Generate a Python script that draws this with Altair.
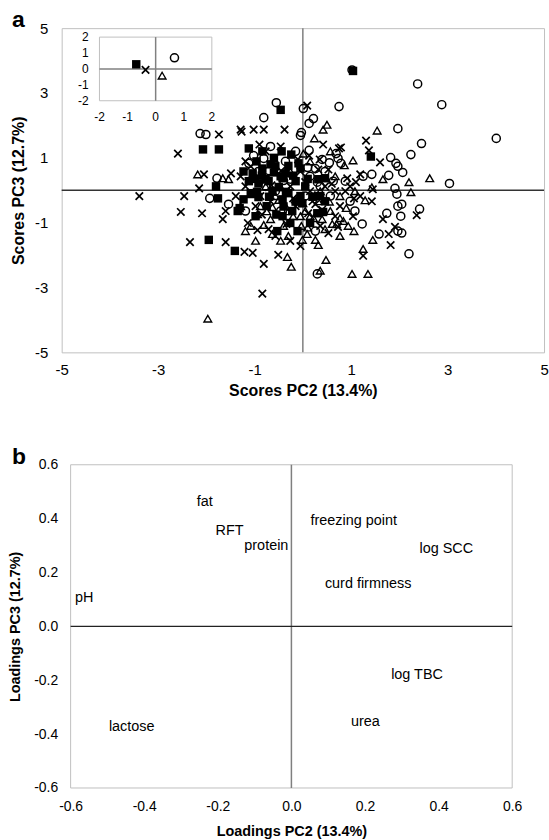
import altair as alt
import pandas as pd

FONT = "Liberation Sans"

# ---- Panel a: PCA scores (PC2, PC3), one list per group ----
SQUARES = [(1.04, 3.68), (-0.46, 2.48), (-2.07, 1.26), (-1.74, 1.26), (-1.80, 0.12), (-1.76, -0.25),
           (-1.35, -0.64), (-1.31, -0.55), (-1.23, -0.28), (-0.92, -0.21), (-1.95, -1.53), (-1.41, -1.87),
           (1.41, 1.04), (-0.44, 1.20), (-0.24, 1.10), (-0.09, 0.83), (-0.05, 0.67), (-0.46, 0.43),
           (0.32, 0.34), (0.46, 0.37), (-0.01, -0.40), (0.36, -0.18), (0.30, -0.71), (-0.42, -0.80),
           (-0.11, -1.26), (-0.53, -1.26), (0.42, -0.67), (-1.12, 1.29), (-1.23, 0.58), (-1.12, 0.28),
           (-0.71, 0.28), (-0.42, 0.37), (-0.96, 0.89), (-0.84, 0.67), (-0.63, -0.03), (-0.30, -0.09),
           (-0.75, -0.49), (-0.26, -1.01), (-0.92, 0.21), (-1.04, 0.52), (0.05, 0.12), (-0.67, 0.80),
           (0.46, -0.34), (-0.84, 1.20), (-0.57, 0.74), (-0.36, 0.52), (-0.15, 0.28), (-0.77, 0.34),
           (-1.08, -0.09), (-0.42, -0.28), (-0.22, -0.64), (0.15, -1.01), (-0.05, -0.18), (-0.98, -0.80),
           (-0.85, 0.45), (-0.60, 0.55), (-0.50, 0.10), (-0.35, -0.05), (-0.20, 0.45), (-0.70, -0.20),
           (-0.95, -0.05), (-0.15, -0.35), (-0.40, -0.50), (-0.55, -0.75), (0.10, 0.35), (-0.30, 0.75),
           (-1.00, 0.35), (-0.60, 1.00), (0.20, -0.20)]

CROSSES = [(0.09, 2.61), (-1.74, 1.72), (-1.29, 1.87), (-1.02, 1.87), (-0.81, 1.87), (-2.59, 1.13),
           (-2.05, 0.49), (-2.15, 0.06), (-3.39, -0.18), (-2.46, -0.18), (-2.53, -0.67), (-2.09, -0.71),
           (-1.66, -0.89), (-1.60, -0.64), (-1.14, -1.01), (-0.94, -1.23), (-2.34, -1.60), (-1.60, -1.60),
           (-1.21, -1.90), (-1.04, -1.93), (-0.81, -2.27), (-0.84, -3.19), (-0.38, 1.87), (-1.27, 1.81),
           (-0.90, 1.41), (0.42, 1.41), (1.31, 1.53), (0.75, 1.29), (1.37, 1.23), (1.60, 0.86),
           (1.19, 0.49), (1.45, 0.03), (-0.59, 0.98), (0.13, 1.07), (0.53, 0.64), (1.06, -0.25),
           (1.19, -0.18), (1.43, -0.34), (1.04, -0.80), (1.66, -0.89), (2.36, -0.77), (1.91, -1.13),
           (1.78, -1.35), (1.82, -1.69), (1.25, -2.02), (0.73, -1.13), (0.53, -1.32), (-0.51, -1.99),
           (-0.34, -1.04), (0.11, -0.71), (0.79, 1.32), (0.92, 0.37), (-0.77, 1.20), (-0.67, -0.34),
           (-0.26, 0.12), (-0.98, -0.49), (-0.15, -0.49), (0.15, -0.03), (-1.39, -0.18), (-1.19, 0.12),
           (0.67, -0.03), (0.36, -1.10), (-0.05, -1.72), (-0.57, -1.41), (-1.19, 0.89), (-1.49, 0.52),
           (0.26, -0.43), (0.77, -0.49), (0.98, 0.12), (-1.08, 0.74), (-0.46, 1.35), (-0.05, 0.58),
           (0.46, 0.12), (0.20, -0.34), (-0.71, -1.20), (-0.26, -1.56), (0.67, -0.80), (0.88, -0.03),
           (-0.88, -0.18), (-1.29, 0.43), (0.32, 0.64), (-0.45, 0.60), (-0.65, 0.15), (0.05, 0.25),
           (-0.20, -0.25), (0.40, -0.60), (-0.85, -0.75), (0.60, 0.20), (-0.10, 0.95), (1.10, 0.25),
           (0.35, 0.95)]

CIRCLES = [(1.02, 3.71), (2.38, 3.28), (2.88, 2.64), (4.01, 1.60), (-0.55, 2.70), (0.01, 2.52),
           (0.75, 2.58), (0.22, 2.21), (0.13, 2.06), (-0.03, 1.78), (-0.05, 1.69), (1.97, 1.90),
           (2.46, 1.44), (0.13, 1.23), (2.24, 1.10), (1.82, 1.01), (1.93, 0.83), (1.97, 0.74),
           (0.69, 1.13), (0.73, 0.98), (0.79, 0.83), (2.07, 0.55), (1.25, 0.43), (1.43, 0.49),
           (1.78, 0.46), (3.04, 0.21), (1.95, -0.12), (1.91, 0.06), (-0.81, 2.24), (-2.13, 1.75),
           (-2.01, 1.72), (-1.78, 0.37), (-1.93, -0.25), (-1.54, -0.43), (0.26, 0.67), (-1.02, 1.07),
           (-0.81, 0.98), (1.97, -0.49), (2.05, -0.43), (2.42, -0.58), (1.74, -0.71), (2.03, -0.80),
           (2.05, -1.32), (1.97, -1.26), (1.58, -1.35), (1.23, -1.04), (2.20, -1.96), (0.30, -2.58),
           (-0.67, 1.35), (-0.36, 0.89), (-0.92, 0.58), (0.36, 0.12), (0.57, -0.18), (0.15, 0.43),
           (-1.19, -0.64), (0.63, 0.28), (0.98, -0.34), (-0.26, 0.34), (0.40, 0.95), (-0.57, -0.03),
           (-1.12, 0.83), (-0.15, 1.20), (0.46, 0.58), (0.88, 0.28), (0.05, -0.18), (-0.77, 0.12),
           (-0.46, -0.64), (1.08, -0.64), (0.26, -1.26), (-0.40, 0.30), (0.10, 0.70), (0.55, 0.85),
           (-0.70, 0.60), (0.30, 0.25)]

TRIANGLES = [(-1.97, -3.96), (-2.18, 0.49), (-1.66, 0.37), (-1.54, 0.34), (0.42, 1.87), (0.50, 2.02),
             (1.54, 1.84), (0.24, 1.60), (1.04, 0.92), (0.86, 0.77), (1.66, 0.34), (2.20, 0.25),
             (2.63, 0.37), (2.24, -0.06), (1.43, 0.09), (0.01, 1.13), (-0.46, 0.09), (0.90, -0.55),
             (0.84, -0.95), (0.94, -1.10), (1.06, -1.26), (0.77, -0.86), (1.29, -0.31), (1.45, -1.53),
             (1.25, -1.81), (1.02, -2.58), (1.35, -2.58), (0.36, -2.48), (0.48, -2.15), (-0.32, -2.06),
             (-0.24, -2.36), (-0.01, -1.53), (0.09, -1.35), (0.26, -1.53), (0.32, -1.69), (0.61, -1.04),
             (-0.30, -1.41), (0.15, -0.80), (0.40, -0.89), (-0.81, -1.07), (-0.63, -1.35), (-0.03, -1.10),
             (-0.63, -0.52), (-0.36, -0.49), (-0.20, -0.80), (0.22, -0.86), (-0.94, -0.74), (-1.08, -0.12),
             (-0.77, 0.12), (-0.15, -0.28), (0.32, -0.34), (0.57, -0.64), (-0.67, -0.89), (-1.08, -1.10),
             (0.67, 0.43), (0.36, -0.03), (-1.29, -0.49), (0.05, -0.64), (0.77, -0.18), (-0.46, -1.56),
             (-0.98, -1.56), (-0.88, -0.49), (-0.57, -0.18), (-0.05, -0.80), (0.46, -1.20), (0.77, -1.41),
             (-0.26, 0.58), (0.15, 0.89), (0.57, 1.20), (1.08, -0.03), (-1.19, -1.26), (-0.40, -1.10),
             (-0.50, -0.30), (0.00, -0.40), (0.25, -0.15), (-0.75, -0.65), (0.55, -0.35), (0.10, -1.15),
             (-0.30, -0.65), (0.70, -1.05)]

SCORE_DOMAIN = [-5, 5]
SCORE_TICKS = [-5, -3, -1, 1, 3, 5]

# ---- inset: group means ----
INSET_DOMAIN = [-2, 2]
INSET_TICKS = [-2, -1, 0, 1, 2]
INSET_SQUARE = [(-0.69, 0.29)]
INSET_CROSS = [(-0.36, -0.06)]
INSET_CIRCLE = [(0.67, 0.70)]
INSET_TRIANGLE = [(0.23, -0.42)]

# ---- Panel b: loadings ----
LOAD_DOMAIN = [-0.6, 0.6]
LOAD_TICKS = [-0.6, -0.4, -0.2, 0.0, 0.2, 0.4, 0.6]
VARIABLES = ["fat", "RFT", "protein", "freezing point", "log SCC", "curd firmness",
             "pH", "log TBC", "urea", "lactose"]
LOAD_PC2 = [-0.257, -0.206, -0.128, 0.052, 0.348, 0.091, -0.588, 0.271, 0.162, -0.496]
LOAD_PC3 = [0.46, 0.354, 0.298, 0.392, 0.287, 0.158, 0.107, -0.179, -0.355, -0.372]

CROSS_PATH = "M-1,-1L1,1M-1,1L1,-1"


def pts(pairs, xn, yn):
    return pd.DataFrame(pairs, columns=[xn, yn])


def symbol_layers(sq, cr, ci, tr, x, y, xn, yn):
    return [
        alt.Chart(pts(cr, xn, yn)).mark_point(shape=CROSS_PATH, filled=False, size=56, strokeWidth=1.7,
                                              color="black", opacity=1).encode(x=x, y=y),
        alt.Chart(pts(tr, xn, yn)).mark_point(shape="triangle-up", filled=False, size=60, strokeWidth=1.4,
                                              color="black", opacity=1).encode(x=x, y=y),
        alt.Chart(pts(ci, xn, yn)).mark_point(shape="circle", filled=False, size=66, strokeWidth=1.5,
                                              color="black", opacity=1).encode(x=x, y=y),
        alt.Chart(pts(sq, xn, yn)).mark_point(shape="square", filled=True, size=72, strokeWidth=0,
                                              color="black", opacity=1).encode(x=x, y=y),
    ]


# ================= Panel a =================
xa = alt.X("pc2:Q", title="Scores PC2 (13.4%)",
           scale=alt.Scale(domain=SCORE_DOMAIN, nice=False, zero=False),
           axis=alt.Axis(values=SCORE_TICKS, domain=False, ticks=False, grid=False,
                         labelFontSize=15, labelPadding=10, labelFlush=False,
                         titleFontSize=16, titlePadding=5))
ya = alt.Y("pc3:Q", title="Scores PC3 (12.7%)",
           scale=alt.Scale(domain=SCORE_DOMAIN, nice=False, zero=False),
           axis=alt.Axis(values=SCORE_TICKS, domain=False, ticks=False, grid=False,
                         labelFontSize=15, labelPadding=14, labelFlush=False,
                         titleFontSize=16, titlePadding=8.5))

zero_va = alt.Chart(pd.DataFrame({"pc2": [0]})).mark_rule(color="#7f7f7f", strokeWidth=1.5).encode(x=xa)
zero_ha = alt.Chart(pd.DataFrame({"pc3": [0]})).mark_rule(color="#333333", strokeWidth=1.3).encode(y=ya)
letter_a = alt.Chart(pd.DataFrame({"t": ["a"]})).mark_text(
    align="left", baseline="alphabetic", font=FONT, fontSize=23, fontWeight="bold", color="black"
).encode(x=alt.value(-50), y=alt.value(-1), text="t:N")

main_a = alt.layer(zero_va, zero_ha,
                   *symbol_layers(SQUARES, CROSSES, CIRCLES, TRIANGLES, xa, ya, "pc2", "pc3"),
                   letter_a)

# inset with its own scales
ix = alt.X("ix:Q", scale=alt.Scale(domain=INSET_DOMAIN, range=[38, 151], nice=False, zero=False), axis=None)
iy = alt.Y("iy:Q", scale=alt.Scale(domain=INSET_DOMAIN, range=[73, 9], nice=False, zero=False), axis=None)

inset_box = alt.Chart(pd.DataFrame({"ix": [INSET_DOMAIN[0]], "ix2": [INSET_DOMAIN[1]],
                                    "iy": [INSET_DOMAIN[0]], "iy2": [INSET_DOMAIN[1]]})).mark_rect(
    fill="white", stroke="#c0c0c0", strokeWidth=1).encode(x=ix, x2="ix2:Q", y=iy, y2="iy2:Q")
inset_v = alt.Chart(pd.DataFrame({"ix": [0], "iy": [INSET_DOMAIN[0]], "iy2": [INSET_DOMAIN[1]]})).mark_rule(
    color="#808080", strokeWidth=1.5).encode(x=ix, y=iy, y2="iy2:Q")
inset_h = alt.Chart(pd.DataFrame({"iy": [0], "ix": [INSET_DOMAIN[0]], "ix2": [INSET_DOMAIN[1]]})).mark_rule(
    color="#808080", strokeWidth=1.5).encode(y=iy, x=ix, x2="ix2:Q")
inset_xlab = alt.Chart(pd.DataFrame({"ix": INSET_TICKS, "iy": [INSET_DOMAIN[0]] * len(INSET_TICKS)})).mark_text(
    baseline="middle", dy=16, font=FONT, fontSize=12, color="black").encode(
    x=ix, y=iy, text=alt.Text("ix:Q", format="d"))
inset_ylab = alt.Chart(pd.DataFrame({"iy": INSET_TICKS, "ix": [INSET_DOMAIN[0]] * len(INSET_TICKS)})).mark_text(
    align="right", baseline="middle", dx=-11, font=FONT, fontSize=12, color="black").encode(
    x=ix, y=iy, text=alt.Text("iy:Q", format="d"))

inset = alt.layer(inset_box, inset_v, inset_h, inset_xlab, inset_ylab,
                  *symbol_layers(INSET_SQUARE, INSET_CROSS, INSET_CIRCLE, INSET_TRIANGLE, ix, iy, "ix", "iy"))

panel_a = alt.layer(main_a, inset).resolve_scale(x="independent", y="independent").properties(
    width=485, height=326)

# ================= Panel b =================
# plot area of panel b starts 9 px to the right of panel a's
xb = alt.X("pc2:Q", title="Loadings PC2 (13.4%)",
           scale=alt.Scale(domain=LOAD_DOMAIN, range=[9, 453], nice=False, zero=False),
           axis=alt.Axis(values=LOAD_TICKS, format=".1f", domain=False, ticks=False, grid=False,
                         labelFontSize=14, labelPadding=12, labelFlush=False,
                         titleFontSize=14.5, titlePadding=11))
yb = alt.Y("pc3:Q", title="Loadings PC3 (12.7%)",
           scale=alt.Scale(domain=LOAD_DOMAIN, nice=False, zero=False),
           axis=alt.Axis(values=LOAD_TICKS, format=".1f", domain=False, ticks=False, grid=False,
                         labelFontSize=14, labelPadding=13, labelFlush=False, offset=-9,
                         titleFontSize=14.5, titlePadding=11))

box_b = alt.Chart(pd.DataFrame({"pc2": [LOAD_DOMAIN[0]], "pc2e": [LOAD_DOMAIN[1]],
                                "pc3": [LOAD_DOMAIN[0]], "pc3e": [LOAD_DOMAIN[1]]})).mark_rect(
    fill="transparent", stroke="#c0c0c0", strokeWidth=1).encode(x=xb, x2="pc2e:Q", y=yb, y2="pc3e:Q")
zero_vb = alt.Chart(pd.DataFrame({"pc2": [0], "pc3": [LOAD_DOMAIN[0]], "pc3e": [LOAD_DOMAIN[1]]})).mark_rule(
    color="#7f7f7f", strokeWidth=1.5).encode(x=xb, y=yb, y2="pc3e:Q")
zero_hb = alt.Chart(pd.DataFrame({"pc3": [0], "pc2": [LOAD_DOMAIN[0]], "pc2e": [LOAD_DOMAIN[1]]})).mark_rule(
    color="#222222", strokeWidth=1.3).encode(y=yb, x=xb, x2="pc2e:Q")
labels_b = alt.Chart(pd.DataFrame({"variable": VARIABLES, "pc2": LOAD_PC2, "pc3": LOAD_PC3})).mark_text(
    align="left", baseline="middle", font=FONT, fontSize=14.5, color="black").encode(
    x=xb, y=yb, text="variable:N")
letter_b = alt.Chart(pd.DataFrame({"t": ["b"]})).mark_text(
    align="left", baseline="alphabetic", font=FONT, fontSize=23, fontWeight="bold", color="black"
).encode(x=alt.value(-50), y=alt.value(-1), text="t:N")

panel_b = alt.layer(box_b, zero_vb, zero_hb, labels_b, letter_b).properties(
    width=453, height=325, view=alt.ViewBackground(stroke="transparent"))

chart = alt.vconcat(panel_a, panel_b, spacing=46).properties(
    padding={"left": 7, "top": 6, "right": 0, "bottom": 0}
).configure(
    locale=alt.Locale(number=alt.NumberLocale(decimal=".", thousands=",", grouping=[3],
                                               currency=["$", ""], minus="-"))
).configure_view(stroke="#c0c0c0", strokeWidth=1).configure_axis(
    labelFont=FONT, titleFont=FONT, labelColor="black", titleColor="black", titleFontWeight="bold"
)

chart.save("out.html", embed_options={"renderer": "svg", "actions": False})
